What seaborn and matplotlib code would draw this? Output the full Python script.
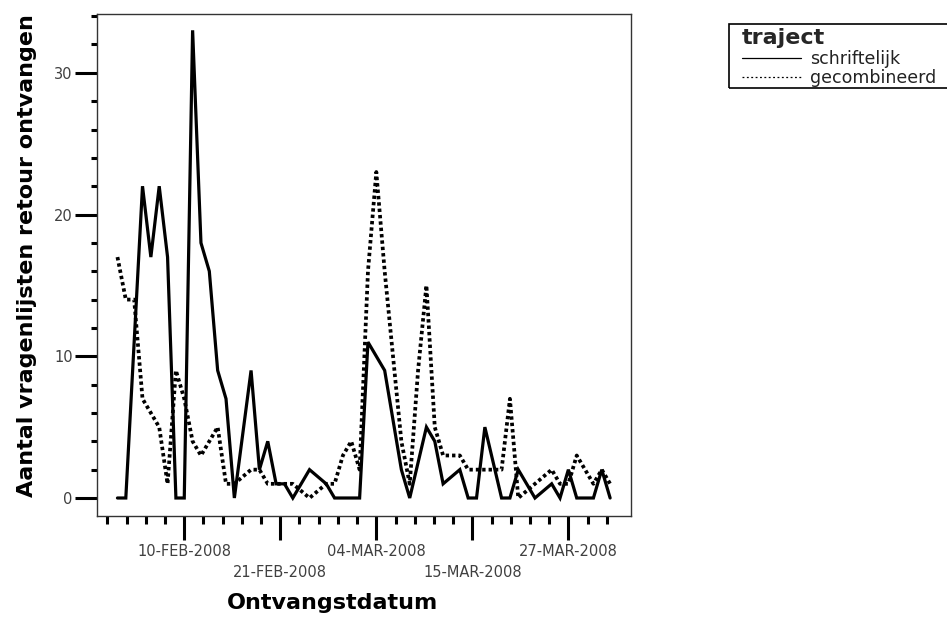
import numpy as np
import pandas as pd
import matplotlib
matplotlib.use("Agg")
import matplotlib.pyplot as plt
import matplotlib.dates as mdates
from matplotlib.lines import Line2D
from matplotlib.patches import Rectangle
import seaborn as sns

# ---------------- data ----------------
dates = pd.date_range("2008-02-02", "2008-04-01", freq="D")
schriftelijk = [0, 0, 11, 22, 17, 22, 17, 0, 0, 33,
                18, 16, 9, 7, 0, None, 9, 2, 4, 1,
                1, 0, 1, 2, None, 1, 0, 0, 0, 0,
                11, 10, 9, None, 2, 0, None, 5, 4, 1,
                None, 2, 0, 0, 5, None, 0, 0, 2, 1,
                0, None, 1, 0, 2, 0, 0, 0, 2, 0]
gecombineerd = [17, 14, 14, 7, 6, 5, 1, 9, 7, 4,
                3, 4, 5, 1, 1, None, 2, 2, 1, 1,
                1, 1, None, 0, None, 1, 1, 3, 4, 2,
                16, 23, 16, 10, 4, 1, 9, 15, 5, 3,
                3, 3, 2, 2, 2, 2, 2, 7, 0, None,
                1, None, 2, 1, 1, 3, 2, 1, 2, 1]
series_names = ["schriftelijk", "gecombineerd"]
tick_dates = ["2008-02-10 00:00", "2008-02-21 12:00", "2008-03-04 00:00",
              "2008-03-15 12:00", "2008-03-27 00:00"]
tick_labels = ["10-FEB-2008", "21-FEB-2008", "04-MAR-2008", "15-MAR-2008", "27-MAR-2008"]
y_major = [0, 10, 20, 30]
y_minor = [2, 4, 6, 8, 12, 14, 16, 18, 22, 24, 26, 28, 32, 34]

df = pd.concat([
    pd.DataFrame({"datum": dates, "aantal": schriftelijk, "traject": series_names[0]}),
    pd.DataFrame({"datum": dates, "aantal": gecombineerd, "traject": series_names[1]}),
], ignore_index=True)
df["aantal"] = pd.to_numeric(df["aantal"])
df = df.dropna()

# ---------------- figure ----------------
sns.set_theme(style="white")
plt.rcParams["font.family"] = ["DejaVu Sans"]

W, H = 947, 617
fig = plt.figure(figsize=(W / 100, H / 100), dpi=100)
ax = fig.add_axes([97 / W, 1 - 516 / H, (631 - 97) / W, (516 - 14) / H])

sns.lineplot(data=df, x="datum", y="aantal", hue="traject", style="traject",
             hue_order=series_names, style_order=series_names,
             palette={"schriftelijk": "black", "gecombineerd": "black"},
             dashes={"schriftelijk": "", "gecombineerd": (0.9, 0.8)},
             linewidth=2.3, estimator=None, legend=False, ax=ax)
for ln in ax.lines:
    ln.set_solid_joinstyle("miter")
    if ln.get_linestyle() not in ("-", "solid"):
        ln.set_linewidth(2.7)

# axis limits
d0 = mdates.date2num(pd.Timestamp("2008-02-02"))
ax.set_xlim(d0 - 2.45, d0 + 61.5)
ax.set_ylim(-1.27, 34.15)

# x ticks
tpos = [mdates.date2num(pd.Timestamp(t)) for t in tick_dates]
ax.set_xticks(tpos)
ax.set_xticklabels([lab if i % 2 == 0 else "\n" + lab for i, lab in enumerate(tick_labels)])
step = (tpos[1] - tpos[0]) / 5
ax.set_xticks([tpos[0] + k * step for k in range(-4, 23)], minor=True)
for t in ax.get_xticklabels():
    t.set_linespacing(1.45)

ax.set_yticks(y_major)
ax.set_yticklabels([str(v) for v in y_major])
ax.set_yticks(y_minor, minor=True)

ax.tick_params(axis="x", which="major", direction="out", length=17.5, width=2.2,
               color="black", labelsize=10.5, labelcolor="#404040", pad=3)
ax.tick_params(axis="x", which="minor", direction="out", length=6, width=2.2, color="black")
ax.tick_params(axis="y", which="major", direction="out", length=16, width=2.2,
               color="black", labelsize=10.5, labelcolor="#404040", pad=1.5)
ax.tick_params(axis="y", which="minor", direction="out", length=4.3, width=2.2, color="black")
ax.tick_params(bottom=True, left=True, which="both")

for s in ax.spines.values():
    s.set_color("#333333")
    s.set_linewidth(1.0)
ax.set_xlabel("")
ax.set_ylabel("")

fig.text(332 / W, 1 - 603 / H, "Ontvangstdatum", ha="center", va="center",
         fontsize=16, fontweight="bold", color="black")
fig.text(27 / W, 1 - 256 / H, "Aantal vragenlijsten retour ontvangen", ha="center",
         va="center", rotation=90, fontsize=16, fontweight="bold", color="black")

# legend
fig.patches.append(Rectangle((729 / W, 1 - 88 / H), (980 - 729) / W, (88 - 24) / H,
                             transform=fig.transFigure, fill=False, edgecolor="black",
                             linewidth=1.2, figure=fig))
handles = [Line2D([], [], color="black", lw=0.9, ls="-"),
           Line2D([], [], color="black", lw=0.9, ls=(0, (1.5, 2.0)))]
leg = fig.legend(handles, series_names, title="traject", loc="upper left",
                 bbox_to_anchor=(742 / W, 1 - 28 / H), bbox_transform=fig.transFigure,
                 frameon=False, fontsize=12.5, alignment="left",
                 title_fontproperties={"weight": "bold", "size": 16},
                 handlelength=3.4, handletextpad=0.5, borderpad=0, borderaxespad=0,
                 labelspacing=0.1)
for t in leg.get_texts():
    t.set_color("#222222")

fig.savefig("out.png", dpi=100)
